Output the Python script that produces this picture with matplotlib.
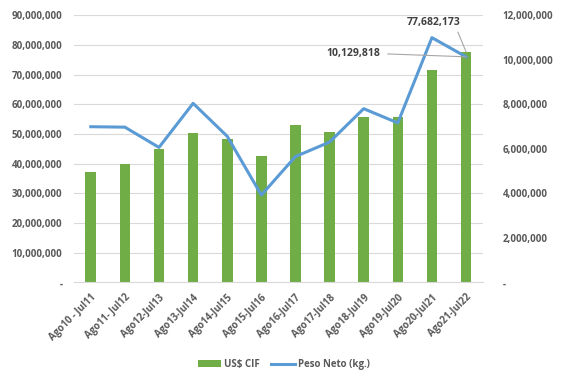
import matplotlib.pyplot as plt
import numpy as np
from matplotlib.ticker import FuncFormatter

# datos
periodos = ['Ago10 - Jul11', 'Ago11- Jul12', 'Ago12-Jul13', 'Ago13-Jul14', 'Ago14-Jul15',
            'Ago15-Jul16', 'Ago16-Jul17', 'Ago17-Jul18', 'Ago18-Jul19', 'Ago19-Jul20',
            'Ago20-Jul21', 'Ago21-Jul22']
cif_usd = [37200000, 39700000, 45000000, 50400000, 48400000, 42400000,
           53100000, 50500000, 55700000, 55800000, 71400000, 77682173]
peso_neto = [6990000, 6970000, 6060000, 8040000, 6560000, 3920000,
             5650000, 6300000, 7800000, 7160000, 10990000, 10129818]

verde = '#70AD47'
azul = '#5B9BD5'
gris = '#595959'

plt.rcParams['font.family'] = ['Open Sans', 'DejaVu Sans']
plt.rcParams['font.weight'] = 'bold'

fig, ax = plt.subplots(figsize=(5.67, 3.79), dpi=100)
fig.subplots_adjust(left=0.13, right=0.852, top=0.96, bottom=0.255)

x = np.arange(len(periodos))
ax.bar(x, cif_usd, width=0.31, color=verde, zorder=2, label='US$ CIF')
ax.set_xlim(-0.5, len(periodos) - 0.5)
ax.set_ylim(0, 90000000)
ax.set_yticks(np.arange(0, 90000001, 10000000))

def fmt(v, pos):
    return '-' if v == 0 else f'{v:,.0f}'

ax.yaxis.set_major_formatter(FuncFormatter(fmt))
ax.grid(axis='y', color='#D9D9D9', linewidth=0.8, zorder=0)
ax.set_xticks(x)
ax.set_xticklabels(periodos, rotation=45, ha='right', rotation_mode='anchor')
ax.tick_params(length=0, colors=gris, labelsize=7)
ax.tick_params(axis='x', pad=7)
ax.tick_params(axis='y', pad=8)
for s in ['top', 'right', 'left']:
    ax.spines[s].set_visible(False)
ax.spines['bottom'].set_color('#D9D9D9')

ax2 = ax.twinx()
ax2.plot(x, peso_neto, color=azul, linewidth=2.2, zorder=3, label='Peso Neto (kg.)')
ax2.set_ylim(0, 12000000)
ax2.set_yticks(np.arange(0, 12000001, 2000000))
ax2.yaxis.set_major_formatter(FuncFormatter(fmt))
ax2.tick_params(length=0, colors=gris, labelsize=7, pad=14)
for s in ax2.spines.values():
    s.set_visible(False)

# etiquetas de datos del último periodo
ax.annotate(f'{cif_usd[-1]:,}', xy=(x[-1], cif_usd[-1]), xytext=(x[-1] - 0.95, 87500000),
            ha='center', va='center', fontsize=7.5, color='#404040',
            arrowprops=dict(arrowstyle='-', color='#A6A6A6', lw=0.8, relpos=(0.92, 0.0),
                            shrinkA=1, shrinkB=0))
ax2.annotate(f'{peso_neto[-1]:,}', xy=(x[-1], peso_neto[-1]), xytext=(x[-1] - 2.5, 10270000),
             ha='right', va='center', fontsize=7.5, color='#404040',
             arrowprops=dict(arrowstyle='-', color='#A6A6A6', lw=0.8, relpos=(1.0, 0.5),
                             shrinkA=3, shrinkB=0))

h1, l1 = ax.get_legend_handles_labels()
h2, l2 = ax2.get_legend_handles_labels()
fig.legend(h1 + h2, l1 + l2, loc='lower center', bbox_to_anchor=(0.5, 0.0), ncol=2,
           frameon=False, fontsize=7, labelcolor=gris, handlelength=2.4,
           columnspacing=1.2, handletextpad=0.3)

fig.savefig('out.png', dpi=100)
